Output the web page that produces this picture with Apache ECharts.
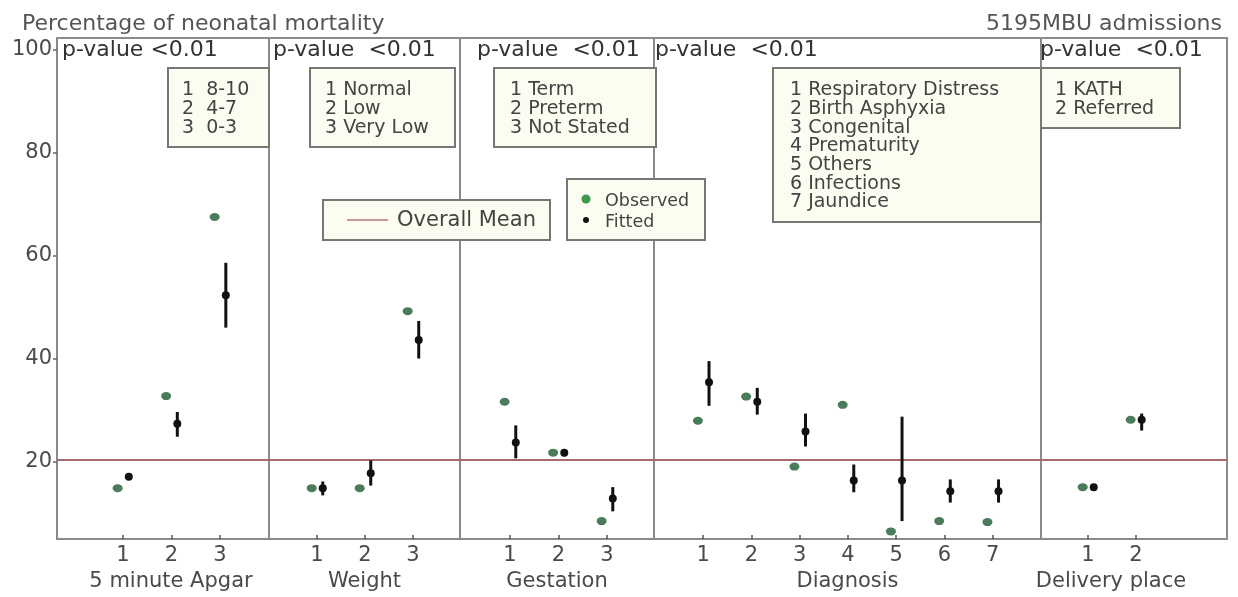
<!DOCTYPE html>
<html><head><meta charset="utf-8">
<script src="https://cdn.jsdelivr.net/npm/echarts@6/dist/echarts.min.js"></script>
<style>html,body{margin:0;padding:0;background:#fff}#c{width:1238px;height:597px}</style>
</head><body><div id="c"></div>
<script>
// ---------------- data ----------------
const groupNames = ['5 minute Apgar', 'Weight', 'Gestation', 'Diagnosis', 'Delivery place'];
const tickLabels = [['1','2','3'], ['1','2','3'], ['1','2','3'], ['1','2','3','4','5','6','7'], ['1','2']];
const observed   = [[14.8, 32.7, 67.5], [14.8, 14.8, 49.2], [31.6, 21.7, 8.4], [27.9, 32.6, 19.0, 31.0, 6.4, 8.4, 8.2], [15.0, 28.1]];
const fitted     = [[17.0, 27.3, 52.3], [14.8, 17.7, 43.6], [23.7, 21.7, 12.8], [35.4, 31.6, 25.8, 16.3, 16.3, 14.2, 14.2], [15.0, 28.1]];
const fittedLow  = [[16.4, 24.8, 46.0], [13.4, 15.3, 40.0], [20.6, 21.0, 10.3], [30.8, 29.1, 22.9, 14.0, 8.4, 12.0, 12.0], [14.4, 26.0]];
const fittedHigh = [[17.6, 29.6, 58.6], [16.1, 20.2, 47.3], [27.0, 22.4, 15.0], [39.5, 34.3, 29.3, 19.4, 28.7, 16.5, 16.5], [15.6, 29.3]];
const overallMean = 20.3;
const yTicks = [20, 40, 60, 80, 100];
const pValueTexts = ['p-value <0.01', 'p-value  <0.01', 'p-value  <0.01', 'p-value  <0.01', 'p-value  <0.01'];
const keyApgar = ['1  8-10', '2  4-7', '3  0-3'];
const keyWeight = ['1 Normal', '2 Low', '3 Very Low'];
const keyGestation = ['1 Term', '2 Preterm', '3 Not Stated'];
const keyDiagnosis = ['1 Respiratory Distress', '2 Birth Asphyxia', '3 Congenital', '4 Prematurity', '5 Others', '6 Infections', '7 Jaundice'];
const keyDelivery = ['1 KATH', '2 Referred'];
const titleText = 'Percentage of neonatal mortality';
const subText = '5195MBU admissions';

// ---------------- layout ----------------
const FONT = '"DejaVu Sans", "Liberation Sans", sans-serif';
const edges = [57, 269, 460, 654, 1041, 1227];
const padLeft = [1.36, 1.0, 1.03, 1.02, 0.98];
const padRight = [1.01, 0.98, 0.97, 1.0, 1.9];
const nameShift = [16, 0, 0, 0, -46];
const obsOff = -0.11, fitOff = 0.12;
const gridTop = 38, gridH = 503;
const borderCol = '#8a8a8a';
const textCol = '#4a4a4a';

const grids = [], xAxes = [], yAxes = [], series = [];
groupNames.forEach((name, i) => {
  const n = tickLabels[i].length;
  const ticks = tickLabels[i].map((_, k) => k + 1);
  grids.push({left: edges[i], width: edges[i+1] - edges[i], top: gridTop, height: gridH,
    show: true, borderColor: borderCol, borderWidth: 2, backgroundColor: 'transparent'});
  const sh = nameShift[i];
  xAxes.push({type: 'value', gridIndex: i, min: 1 - padLeft[i], max: n + padRight[i],
    splitLine: {show: false},
    axisLine: {show: true, onZero: false, lineStyle: {color: borderCol, width: 2}},
    axisTick: {show: true, inside: true, length: 4, customValues: ticks, lineStyle: {color: '#555', width: 1.5}},
    axisLabel: {customValues: ticks, formatter: v => tickLabels[i][Math.round(v) - 1] || '',
      fontSize: 21, color: textCol, fontFamily: FONT, margin: 6},
    name: name, nameLocation: 'middle', nameGap: 28,
    nameTextStyle: {fontSize: 21, color: textCol, fontFamily: FONT,
      padding: sh >= 0 ? [0, 0, 0, sh] : [0, -sh, 0, 0]}
  });
  yAxes.push({type: 'value', gridIndex: i, min: 4.9, max: 102.3,
    splitLine: {show: false},
    axisLine: {show: i === 0, onZero: false, lineStyle: {color: borderCol, width: 2}},
    axisTick: {show: i === 0, length: 4, customValues: yTicks, lineStyle: {color: '#666', width: 1.5}},
    axisLabel: {show: i === 0, customValues: yTicks, fontSize: 21, color: textCol, fontFamily: FONT, margin: 5}
  });
  series.push({type: 'scatter', xAxisIndex: i, yAxisIndex: i, z: 3,
    data: observed[i].map((v, k) => [k + 1 + obsOff, v]),
    symbol: 'circle', symbolSize: [10, 8], itemStyle: {color: '#4a7c5c', opacity: 1},
    markLine: {silent: true, symbol: 'none', label: {show: false}, z: 2,
      lineStyle: {color: '#a86a6a', width: 2, type: 'solid'},
      data: [{yAxis: overallMean}]}
  });
  series.push({type: 'custom', xAxisIndex: i, yAxisIndex: i, z: 4,
    data: fittedLow[i].map((lo, k) => [k + 1 + fitOff, lo, fittedHigh[i][k]]),
    encode: {x: 0, y: [1, 2]},
    renderItem: (params, api) => {
      const a = api.coord([api.value(0), api.value(1)]);
      const b = api.coord([api.value(0), api.value(2)]);
      return {type: 'line', shape: {x1: a[0], y1: a[1], x2: b[0], y2: b[1]},
        style: {stroke: '#111', lineWidth: 3}};
    }
  });
  series.push({type: 'scatter', xAxisIndex: i, yAxisIndex: i, z: 5,
    data: fitted[i].map((v, k) => [k + 1 + fitOff, v]),
    symbol: 'circle', symbolSize: 8, itemStyle: {color: '#111', opacity: 1}
  });
});

// ---------------- annotations (graphic) ----------------
const graphic = [];
const pvX = [62, 273, 477, 655, 1040];
pValueTexts.forEach((t, i) => graphic.push({type: 'text', x: pvX[i], y: 50, z: 50,
  style: {text: t, fontSize: 22, fontFamily: FONT, fill: '#333', verticalAlign: 'middle'}}));

const keyBoxes = [
  {lines: keyApgar, x: 168, y: 68, w: 101, h: 79, tx: 182},
  {lines: keyWeight, x: 310, y: 68, w: 145, h: 79, tx: 325},
  {lines: keyGestation, x: 494, y: 68, w: 162, h: 79, tx: 510},
  {lines: keyDiagnosis, x: 773, y: 68, w: 268, h: 154, tx: 790},
  {lines: keyDelivery, x: 1041, y: 68, w: 139, h: 60, tx: 1055}
];
keyBoxes.forEach(b => {
  graphic.push({type: 'rect', z: 60, shape: {x: b.x, y: b.y, width: b.w, height: b.h},
    style: {fill: '#fcfcf1', stroke: '#777', lineWidth: 2}});
  graphic.push({type: 'text', z: 61, x: b.tx, y: 81,
    style: {text: b.lines.join('\n'), fontSize: 19, lineHeight: 18.7, fontFamily: FONT, fill: '#444', verticalAlign: 'top'}});
});
// Overall mean key
graphic.push({type: 'rect', z: 60, shape: {x: 323, y: 200, width: 227, height: 40},
  style: {fill: '#fcfcf1', stroke: '#777', lineWidth: 2}});
graphic.push({type: 'line', z: 61, shape: {x1: 347, y1: 220, x2: 388, y2: 220},
  style: {stroke: '#c49a9a', lineWidth: 2}});
graphic.push({type: 'text', z: 61, x: 397, y: 221,
  style: {text: 'Overall Mean', fontSize: 21, fontFamily: FONT, fill: '#444', verticalAlign: 'middle'}});
// Observed / Fitted key
graphic.push({type: 'rect', z: 60, shape: {x: 567, y: 179, width: 138, height: 61},
  style: {fill: '#fcfcf1', stroke: '#777', lineWidth: 2}});
graphic.push({type: 'circle', z: 61, shape: {cx: 586, cy: 199, r: 4.5}, style: {fill: '#3b9a4a'}});
graphic.push({type: 'text', z: 61, x: 605, y: 201,
  style: {text: 'Observed', fontSize: 17.5, fontFamily: FONT, fill: '#444', verticalAlign: 'middle'}});
graphic.push({type: 'circle', z: 61, shape: {cx: 586, cy: 220, r: 3}, style: {fill: '#111'}});
graphic.push({type: 'text', z: 61, x: 605, y: 222,
  style: {text: 'Fitted', fontSize: 17.5, fontFamily: FONT, fill: '#444', verticalAlign: 'middle'}});

const option = {
  backgroundColor: '#fff',
  animation: false,
  title: [
    {text: titleText, left: 17, top: 8, textStyle: {fontSize: 22, fontWeight: 'normal', color: '#555', fontFamily: FONT}},
    {text: subText, right: 11, top: 8, textStyle: {fontSize: 22, fontWeight: 'normal', color: '#555', fontFamily: FONT}}
  ],
  grid: grids, xAxis: xAxes, yAxis: yAxes, series: series, graphic: graphic
};
echarts.init(document.getElementById('c')).setOption(option);
</script></body></html>
